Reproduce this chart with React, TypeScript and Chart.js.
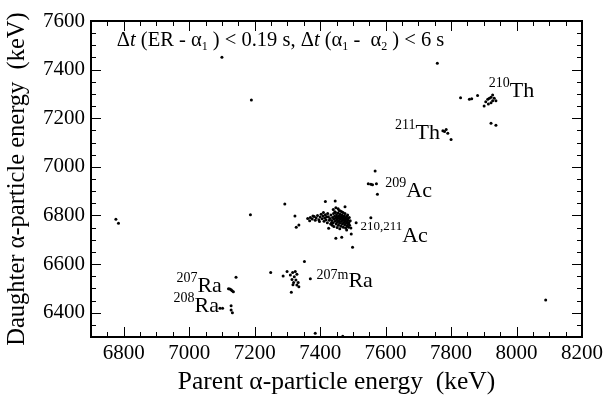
import { useEffect, useRef } from 'react';
import { Chart, registerables } from 'chart.js';

Chart.register(...registerables);

const X_TICKS = [6800, 7000, 7200, 7400, 7600, 7800, 8000, 8200];
const Y_TICKS = [6400, 6600, 6800, 7000, 7200, 7400, 7600];
const X_MIN = 6700;
const X_MAX = 8200;
const Y_MIN = 6300;
const Y_MAX = 7600;

const X_TITLE = 'Parent \u03b1-particle energy  (keV)';
const Y_TITLE = 'Daughter \u03b1-particle energy  (keV)';

// [parent energy, daughter energy] in keV
const TH210: [number, number][] = [
  [7927, 7296], [7922, 7286], [7932, 7282], [7912, 7278], [7937, 7272], [7906, 7268],
  [7922, 7264], [7914, 7259], [7901, 7250], [7927, 7272], [7917, 7282],
  [7829, 7284], [7856, 7278], [7863, 7280], [7881, 7294], [7922, 7179], [7937, 7171],
];
const TH211: [number, number][] = [
  [7785, 7154], [7780, 7145], [7790, 7138], [7800, 7113], [7775, 7148],
];
const AC209: [number, number][] = [
  [7568, 6983], [7547, 6930], [7555, 6928], [7560, 6926], [7572, 6930], [7575, 6887],
];
const AC210_211: [number, number][] = [
  [7425, 6795], [7430, 6788], [7433, 6802], [7436, 6779], [7438, 6792], [7440, 6770],
  [7441, 6808], [7443, 6785], [7444, 6797], [7446, 6776], [7447, 6812], [7448, 6790],
  [7449, 6765], [7450, 6803], [7451, 6782], [7452, 6795], [7453, 6772], [7454, 6788],
  [7455, 6810], [7456, 6760], [7457, 6798], [7458, 6778], [7459, 6791], [7460, 6768],
  [7461, 6805], [7462, 6784], [7463, 6796], [7464, 6756], [7465, 6775], [7466, 6789],
  [7467, 6802], [7468, 6765], [7469, 6780], [7470, 6794], [7471, 6752], [7472, 6771],
  [7473, 6786], [7474, 6799], [7475, 6762], [7476, 6777], [7477, 6790], [7478, 6748],
  [7479, 6768], [7480, 6783], [7481, 6796], [7482, 6757], [7483, 6774], [7484, 6788],
  [7485, 6765], [7486, 6780], [7487, 6752], [7488, 6770], [7489, 6792], [7490, 6760],
  [7492, 6778], [7494, 6748], [7445, 6815], [7462, 6818], [7470, 6812], [7437, 6760],
  [7442, 6755], [7452, 6750], [7460, 6745], [7435, 6770], [7428, 6780], [7432, 6765],
  [7458, 6820], [7466, 6815], [7476, 6808], [7484, 6802], [7440, 6825], [7455, 6828],
  [7448, 6832],
  [7362, 6788], [7370, 6792], [7376, 6785], [7382, 6796], [7388, 6790], [7392, 6800],
  [7396, 6782], [7400, 6794], [7403, 6805], [7406, 6786], [7409, 6798], [7412, 6776],
  [7414, 6790], [7416, 6803], [7418, 6782], [7420, 6795], [7422, 6770], [7423, 6808],
  [7385, 6780], [7398, 6775], [7410, 6812], [7368, 6778], [7378, 6798],
  [7416, 6857], [7446, 6860], [7476, 6836], [7323, 6798], [7335, 6761], [7327, 6751],
  [7448, 6706], [7466, 6710], [7495, 6724], [7481, 6740], [7499, 6669], [7555, 6791],
  [7510, 6770], [7426, 6747],
];
const RA207M: [number, number][] = [
  [7309, 6555], [7316, 6565], [7324, 6569], [7329, 6558], [7321, 6548], [7314, 6537],
  [7326, 6535], [7319, 6524], [7333, 6524], [7317, 6515], [7329, 6514], [7335, 6507],
  [7312, 6484], [7370, 6540], [7352, 6611], [7249, 6565], [7287, 6551], [7299, 6569],
];
const RA207: [number, number][] = [
  [7143, 6546], [7120, 6499], [7124, 6497], [7128, 6494], [7131, 6490], [7135, 6486],
];
const RA208: [number, number][] = [
  [7094, 6418], [7102, 6418], [7128, 6429], [7128, 6411], [7132, 6400],
];
const OTHERS: [number, number][] = [
  [7100, 7451], [7190, 7275], [7758, 7426], [6776, 6784], [6784, 6768], [7187, 6803],
  [7292, 6847], [7385, 6315], [7469, 6303], [8089, 6452],
];

const SERIF = '"Liberation Serif", "DejaVu Serif", serif';
Chart.defaults.font.family = SERIF;
Chart.defaults.color = '#000';

type Run = { t: string; size?: number; dy?: number; italic?: boolean };

function drawRuns(ctx: CanvasRenderingContext2D, x: number, y: number, runs: Run[], base: number) {
  let cx = x;
  ctx.save();
  ctx.fillStyle = '#000';
  ctx.textBaseline = 'alphabetic';
  ctx.textAlign = 'left';
  for (const r of runs) {
    const size = r.size ?? base;
    ctx.font = `${r.italic ? 'italic ' : ''}${size}px ${SERIF}`;
    ctx.fillText(r.t, cx, y + (r.dy ?? 0));
    cx += ctx.measureText(r.t).width;
  }
  ctx.restore();
}

const framePlugin = {
  id: 'frame',
  afterDraw(chart: any) {
    const { ctx, chartArea } = chart;
    const { left, right, top, bottom } = chartArea;
    const xs = chart.scales.x;
    const ys = chart.scales.y;
    ctx.save();
    ctx.strokeStyle = '#000';
    ctx.lineWidth = 1;
    ctx.beginPath();
    for (let v = X_MIN; v <= X_MAX; v += 50) {
      const p = Math.round(xs.getPixelForValue(v)) + 0.5;
      const len = v % 200 === 0 ? 10 : 5;
      ctx.moveTo(p, bottom); ctx.lineTo(p, bottom - len);
      ctx.moveTo(p, top); ctx.lineTo(p, top + len);
    }
    for (let v = Y_MIN; v <= Y_MAX; v += 50) {
      const p = Math.round(ys.getPixelForValue(v)) + 0.5;
      const len = v % 200 === 0 ? 10 : 5;
      ctx.moveTo(left, p); ctx.lineTo(left + len, p);
      ctx.moveTo(right, p); ctx.lineTo(right - len, p);
    }
    ctx.stroke();
    ctx.lineWidth = 2;
    ctx.strokeRect(left, top, right - left, bottom - top);
    ctx.restore();

    const X = (v: number) => xs.getPixelForValue(v);
    const Y = (v: number) => ys.getPixelForValue(v);
    drawRuns(ctx, X(6779), Y(7497), [
      { t: '\u0394' }, { t: 't', italic: true }, { t: ' (ER - \u03b1' }, { t: '1', size: 12, dy: 4 },
      { t: ' ) < 0.19 s, \u0394' }, { t: 't', italic: true }, { t: ' (\u03b1' }, { t: '1', size: 12, dy: 4 },
      { t: ' -  \u03b1' }, { t: '2', size: 12, dy: 4 }, { t: ' ) < 6 s' },
    ], 20.5);
    const iso = (x: number, y: number, a: string, el: string, raise = 10, asz = 14) =>
      drawRuns(ctx, X(x), Y(y), [{ t: a, size: asz, dy: -raise }, { t: el }], 22);
    iso(7915, 7287, '210', 'Th');
    iso(7629, 7115, '211', 'Th');
    iso(7599, 6876, '209', 'Ac');
    iso(7523, 6691, '210,211', 'Ac', 12, 13);
    iso(7389, 6506, '207m', 'Ra', 8);
    iso(6961, 6485, '207', 'Ra');
    iso(6952, 6403, '208', 'Ra');
  },
};

export default function App() {
  const ref = useRef<HTMLCanvasElement | null>(null);
  useEffect(() => {
    if (!ref.current) return;
    const all = [...TH210, ...TH211, ...AC209, ...AC210_211, ...RA207M, ...RA207, ...RA208, ...OTHERS];
    const chart = new Chart(ref.current, {
      type: 'scatter',
      data: {
        datasets: [{
          data: all.map(([x, y]) => ({ x, y })),
          backgroundColor: '#000',
          borderWidth: 0,
          pointRadius: 1.5,
          pointHoverRadius: 1.5,
        }],
      },
      options: {
        animation: false,
        responsive: true,
        maintainAspectRatio: false,
        events: [],
        layout: { padding: { top: 21, right: 22, left: 0, bottom: 0 } },
        plugins: { legend: { display: false }, tooltip: { enabled: false } },
        scales: {
          x: {
            type: 'linear', min: X_MIN, max: X_MAX,
            afterBuildTicks: (s: any) => { s.ticks = X_TICKS.map((v) => ({ value: v })); },
            afterFit: (s: any) => { s.height = 68; },
            grid: { display: false, drawTicks: false },
            border: { display: false },
            ticks: {
              color: '#000', font: { family: SERIF, size: 21 }, padding: 4, maxRotation: 0, autoSkip: false,
              callback: (v: any) => String(v),
            },
            title: { display: true, text: X_TITLE, color: '#000', font: { family: SERIF, size: 25.5 }, padding: { top: 0, bottom: 7 } },
          },
          y: {
            type: 'linear', min: Y_MIN, max: Y_MAX,
            afterBuildTicks: (s: any) => { s.ticks = Y_TICKS.map((v) => ({ value: v })); },
            afterFit: (s: any) => { s.width = 91; },
            grid: { display: false, drawTicks: false },
            border: { display: false },
            ticks: {
              color: '#000', font: { family: SERIF, size: 21 }, padding: 6, autoSkip: false,
              callback: (v: any) => String(v),
            },
            title: { display: true, text: Y_TITLE, color: '#000', font: { family: SERIF, size: 24.5 }, padding: { top: 3, bottom: 0 } },
          },
        },
      },
      plugins: [framePlugin],
    } as any);
    return () => chart.destroy();
  }, []);
  return (
    <div style={{ position: 'fixed', left: 0, top: 0, width: 607, height: 405, background: '#fff' }}>
      <canvas ref={ref} />
    </div>
  );
}
